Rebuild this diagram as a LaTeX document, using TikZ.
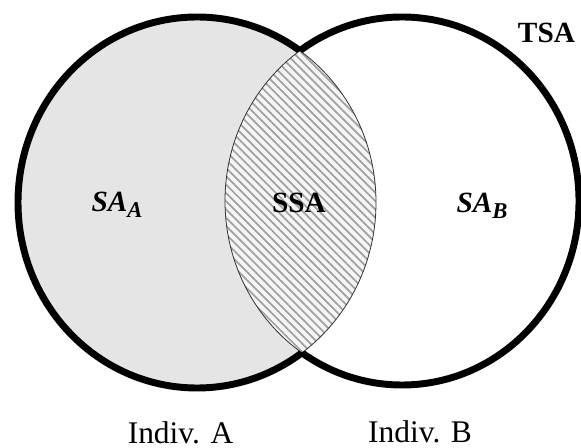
\documentclass[tikz,border=0pt]{standalone}
\usepackage{fontspec}
\setmainfont{Liberation Serif}
\usetikzlibrary{patterns.meta}
\definecolor{shadeA}{RGB}{229,229,229}
\definecolor{hatchgray}{RGB}{160,160,160}
\tikzset{
  outline/.style={line width=5.2pt},
  lbl/.style={inner sep=0.75pt,anchor=base,font=\fontsize{22}{26}\selectfont\bfseries},
  indiv/.style={inner sep=0.75pt,anchor=base,font=\fontsize{23.6}{28}\selectfont}
}
\newcommand{\ellA}{(197,202.5) ellipse (179 and 185.5)}
\newcommand{\ellB}{(402,201) ellipse (177 and 184)}
\newcommand{\subsc}[1]{\raisebox{-4.5pt}{\fontsize{17}{20}\selectfont\bfseries\itshape #1}}
\begin{document}
\begin{tikzpicture}[x=0.75pt,y=0.75pt,yscale=-1,xscale=1]
\useasboundingbox (0,0) rectangle (581,448);

%Shape: Ellipse (Indiv. A)
\fill[shadeA] \ellA ;
%Shape: Lens (shared area)
\begin{scope}
\clip \ellA ;
\fill[white!96!black] \ellB ;
\fill[pattern={Lines[angle=-45,distance=4.4pt,line width=1.3pt]},pattern color=hatchgray] \ellB ;
\draw[line width=0.6pt,black!80] \ellB ;
\end{scope}
\begin{scope}
\clip \ellB ;
\draw[line width=0.6pt,black!80] \ellA ;
\end{scope}
%Shape: Ellipse outlines
\begin{scope}[even odd rule]
\clip (-10,-10) rectangle (600,460) \ellB ;
\draw[outline] \ellA ;
\end{scope}
\begin{scope}[even odd rule]
\clip (-10,-10) rectangle (600,460) \ellA ;
\draw[outline] \ellB ;
\end{scope}

% Text Node
\draw (117,212) node [lbl] (saA) {\textit{SA}\subsc{A}};
% Text Node
\draw (299,213) node [lbl] (ssa) {SSA};
% Text Node
\draw (482,213) node [lbl] (saB) {\textit{SA}\subsc{B}};
% Text Node
\draw (546.5,43) node [lbl] (tsa) {TSA};
% Text Node
\draw (180.5,443) node [indiv] (indA) {Indiv. A};
% Text Node
\draw (420,442) node [indiv] (indB) {Indiv. B};
\end{tikzpicture}
\end{document}
